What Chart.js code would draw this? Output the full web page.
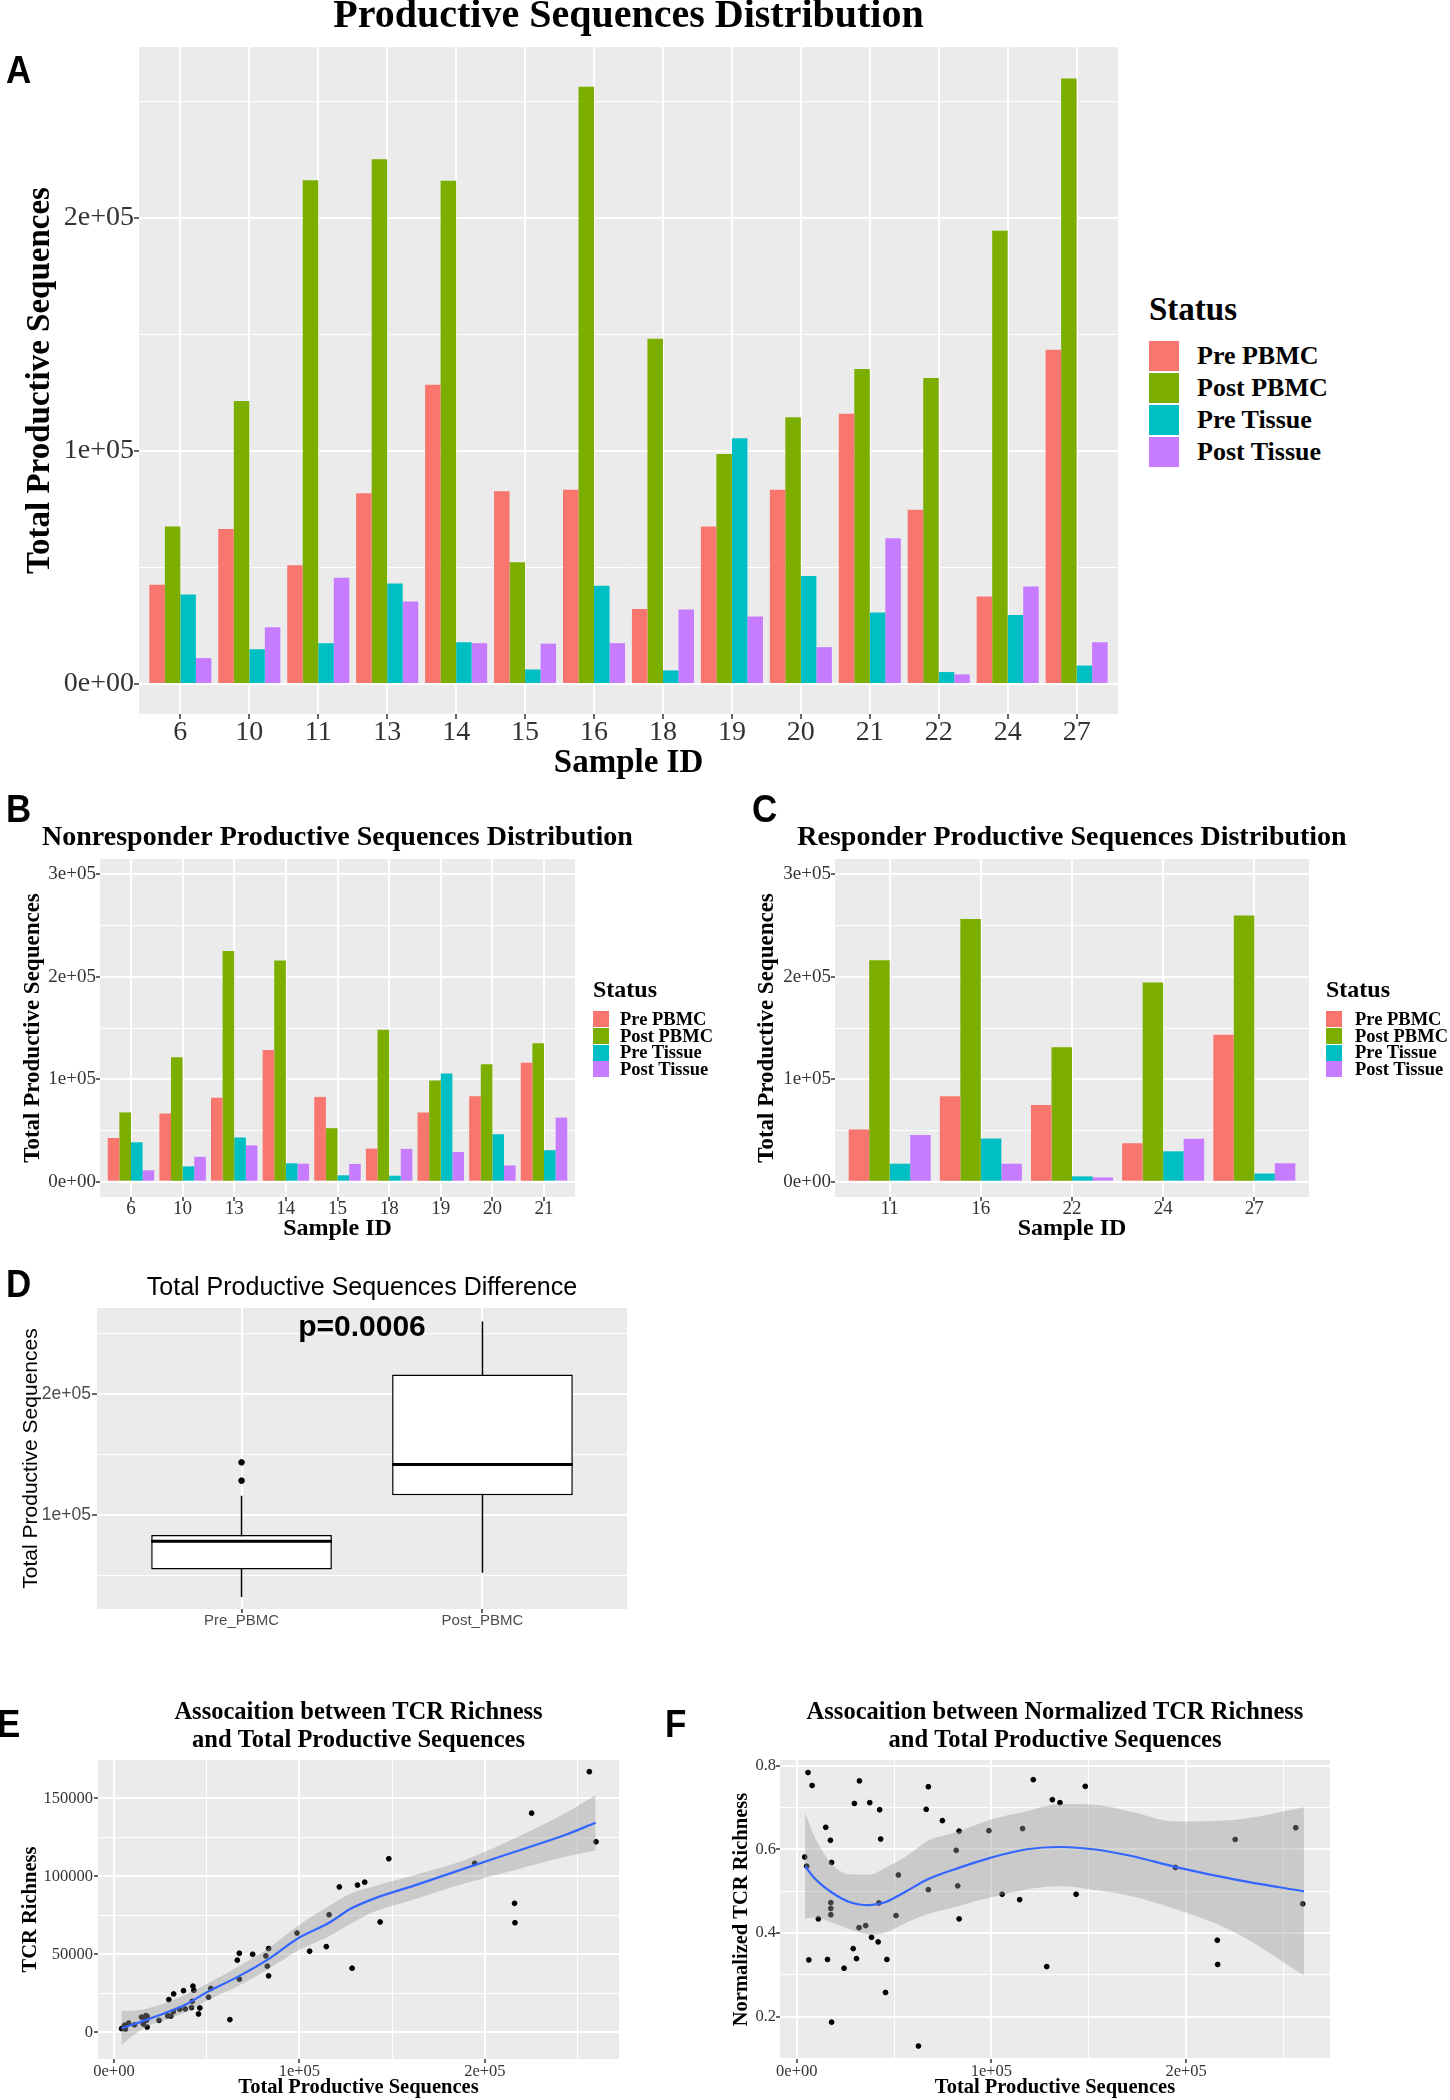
<!DOCTYPE html>
<html lang="en">
<head>
<meta charset="UTF-8">
<meta name="viewport" content="width=device-width, initial-scale=1.0">
<title>Productive Sequences Distribution</title>
<script src="https://cdn.jsdelivr.net/npm/chart.js"></script>
<style>
    body {
        margin: 0;
        background: #ffffff;
    }

    #page {
        position: relative;
        width: 1450px;
        height: 2100px;
        overflow: hidden;
        background: #ffffff;
    }

    canvas {
        position: absolute;
    }

    .letter {
        position: absolute;
        font-family: 'Liberation Sans', Arial, sans-serif;
        font-weight: bold;
        font-size: 38px;
        line-height: 38px;
        transform: scaleX(0.92);
        transform-origin: left top;
        color: #000;
    }

    .legend-text {
        position: absolute;
        font-family: 'Liberation Serif', 'Times New Roman', serif;
        font-weight: bold;
        white-space: nowrap;
        color: #000;
    }

    .legend-key {
        position: absolute;
    }
</style>
</head>
<body>
<div id="page">
    <canvas id="chartA" width="1125" height="785" style="left:0px; top:0px;"></canvas>
    <canvas id="chartB" width="650" height="445" style="left:0px; top:800px;"></canvas>
    <canvas id="chartC" width="640" height="445" style="left:730px; top:800px;"></canvas>
    <canvas id="chartD" width="640" height="380" style="left:0px; top:1255px;"></canvas>
    <canvas id="chartE" width="640" height="420" style="left:0px; top:1680px;"></canvas>
    <canvas id="chartF" width="700" height="420" style="left:650px; top:1680px;"></canvas>

    <div class="letter" style="left:6px; top:51px;">A</div>
    <div class="letter" style="left:6px; top:790px;">B</div>
    <div class="letter" style="left:752px; top:790px;">C</div>
    <div class="letter" style="left:6px; top:1265px;">D</div>
    <div class="letter" style="left:-3px; top:1705px;">E</div>
    <div class="letter" style="left:665px; top:1705px;">F</div>
</div>

<script>
    // Samples and groups
    const sampleIds = ['6', '10', '11', '13', '14', '15', '16', '18', '19', '20', '21', '22', '24', '27'];
    const nonresponderIds = ['6', '10', '13', '14', '15', '18', '19', '20', '21'];
    const responderIds = ['11', '16', '22', '24', '27'];
    const statusNames = ['Pre PBMC', 'Post PBMC', 'Pre Tissue', 'Post Tissue'];
    const statusColors = ['#F8766D', '#7CAE00', '#00BFC4', '#C77CFF'];

    // Total productive sequences per sample (same order as sampleIds)
    const prePBMC    = [42600, 66500, 51000, 81900, 128400, 82700, 83400, 32200, 67600, 83400, 116000, 74800, 37500, 143500];
    const postPBMC   = [67600, 121500, 216200, 225200, 216000, 52200, 256300, 148200, 98700, 114500, 135200, 131300, 194500, 259900];
    const preTissue  = [38400, 14900, 17500, 43100, 17900, 6200, 42200, 5800, 105500, 46300, 30700, 5100, 29600, 7900];
    const postTissue = [11100, 24300, 45600, 35400, 17500, 17300, 17500, 32000, 29000, 15800, 62500, 4100, 41800, 17900];

    // Normalized TCR richness per sample (same order as sampleIds)
    const normPrePBMC    = [0.695, 0.696, 0.442, 0.598, 0.320, 0.513, 0.644, 0.764, 0.750, 0.434, 0.650, 0.669, 0.712, 0.493];
    const normPostPBMC   = [0.504, 0.767, 0.325, 0.624, 0.383, 0.539, 0.652, 0.751, 0.645, 0.480, 0.712, 0.719, 0.557, 0.470];
    const normPreTissue  = [0.390, 0.653, 0.473, 0.625, 0.187, 0.336, 0.472, 0.784, 0.493, 0.337, 0.339, 0.560, 0.710, 0.753];
    const normPostTissue = [0.434, 0.316, 0.258, 0.418, 0.459, 0.622, 0.444, 0.413, 0.363, 0.337, 0.130, 0.582, 0.379, 0.569];

    // Smoothed fit (loess)
    const eCurveTotal   = [4000, 9400, 18300, 27300, 38100, 50700, 66900, 83100, 99300, 115500, 128100, 140600, 162200, 189200, 216200, 243200, 259700];
    const eFitRichness  = [2600, 4700, 8300, 12200, 17500, 26100, 35700, 46800, 60300, 69900, 79500, 85900, 94200, 105100, 115800, 126500, 134400];
    const eBandHigh     = [13900, 13900, 15400, 18600, 23900, 31400, 42100, 53800, 68400, 80600, 89100, 93800, 100900, 110500, 124400, 140400, 152100];
    const eBandLow      = [-8500, -2800, 4100, 7900, 12600, 20700, 29700, 40400, 52400, 61300, 69900, 77400, 85300, 95500, 104100, 112600, 116500];

    // Smoothed fit (loess)
    const fCurveTotal = [4300, 9400, 18400, 27400, 37300, 45400, 56200, 67000, 83200, 99400, 117400, 135400, 153400, 171400, 194800, 225400, 260500];
    const fFitNorm    = [0.560, 0.530, 0.496, 0.474, 0.467, 0.474, 0.500, 0.528, 0.556, 0.580, 0.600, 0.606, 0.600, 0.585, 0.558, 0.528, 0.500];
    const fBandHigh   = [0.687, 0.628, 0.564, 0.540, 0.540, 0.556, 0.584, 0.620, 0.643, 0.671, 0.691, 0.709, 0.707, 0.691, 0.667, 0.671, 0.701];
    const fBandLow    = [0.435, 0.437, 0.425, 0.409, 0.397, 0.401, 0.425, 0.445, 0.465, 0.485, 0.504, 0.512, 0.503, 0.489, 0.457, 0.401, 0.299];

    const boxGroups = ['Pre_PBMC', 'Post_PBMC'];
    const pValueText = 'p=0.0006';

    const statusSeries = [prePBMC, postPBMC, preTissue, postTissue];
    const statusNorm = [normPrePBMC, normPostPBMC, normPreTissue, normPostTissue];

    const serif = "'Liberation Serif', 'Times New Roman', serif";
    const sans = "'Liberation Sans', Arial, sans-serif";

    Chart.defaults.color = '#000';
    Chart.defaults.font.family = serif;

    // grey panel behind the plot, ggplot style
    const panelBg = {
        id: 'panelBg',
        beforeDraw(chart) {
            const a = chart.chartArea;
            const ctx = chart.ctx;
            ctx.save();
            ctx.fillStyle = '#EBEBEB';
            ctx.fillRect(a.left, a.top, a.right - a.left, a.bottom - a.top);
            ctx.restore();
        }
    };

    // plot title centred over the panel (the built-in title squeezes long text to the panel width)
    const ggTitle = {
        id: 'ggTitle',
        afterDraw(chart, args, o) {
            const a = chart.chartArea;
            const ctx = chart.ctx;
            ctx.save();
            ctx.font = o.font;
            ctx.fillStyle = '#000';
            ctx.textAlign = 'center';
            ctx.textBaseline = 'middle';
            o.lines.forEach((t, i) => ctx.fillText(t, (a.left + a.right) / 2, o.y + i * (o.gap || 0)));
            ctx.restore();
        }
    };

    function font(family, size, weight, lineHeight) {
        return { family: family, size: size, weight: weight || 'normal', lineHeight: lineHeight || 1 };
    }

    function sci(v) {
        if (v === 0) return '0e+00';
        const e = Math.floor(Math.log10(Math.abs(v)) + 1e-9);
        const m = Math.round(v / Math.pow(10, e));
        return m + 'e' + (e < 0 ? '-' : '+') + String(Math.abs(e)).padStart(2, '0');
    }

    function ggTicks(majors, minors) {
        return function (scale) {
            const t = majors.map(v => ({ value: v }))
                .concat(minors.map(v => ({ value: v, minor: true })));
            t.sort((a, b) => a.value - b.value);
            scale.ticks = t;
        };
    }

    function ggGrid(tickLen) {
        return {
            color: '#FFFFFF',
            lineWidth: c => (c.tick && c.tick.minor) ? 1 : 2,
            tickColor: c => (c.tick && c.tick.minor) ? 'rgba(0,0,0,0)' : '#333333',
            tickWidth: 1.5,
            tickLength: tickLen,
            drawTicks: true,
            offset: false
        };
    }

    function ggAxis(o) {
        return {
            type: 'linear',
            min: o.min,
            max: o.max,
            bounds: 'data',
            beginAtZero: false,
            offset: false,
            afterBuildTicks: ggTicks(o.majors, o.minors || []),
            afterFit: o.width ? (s => { s.width = o.width; }) : (s => { s.height = o.height; }),
            grid: ggGrid(o.tickLen),
            border: { display: false },
            ticks: {
                autoSkip: false,
                maxRotation: 0,
                minRotation: 0,
                padding: o.tickPad,
                color: o.tickColor || '#333333',
                font: o.tickFont,
                callback: (v, i, t) => t[i].minor ? '' : o.fmt(v)
            },
            title: {
                display: !!o.title,
                text: o.title,
                color: '#000',
                font: o.titleFont,
                padding: o.titlePad
            }
        };
    }

    function addLegend(spec) {
        const page = document.getElementById('page');
        const head = document.createElement('div');
        head.className = 'legend-text';
        head.textContent = 'Status';
        head.style.left = spec.left + 'px';
        head.style.top = (spec.titleY - spec.titleSize / 2) + 'px';
        head.style.fontSize = spec.titleSize + 'px';
        head.style.lineHeight = spec.titleSize + 'px';
        page.appendChild(head);

        statusNames.forEach((name, i) => {
            const top = spec.boxTop + i * spec.pitch;
            const key = document.createElement('div');
            key.className = 'legend-key';
            key.style.left = spec.left + 'px';
            key.style.top = top + 'px';
            key.style.width = spec.box + 'px';
            key.style.height = spec.box + 'px';
            key.style.background = statusColors[i];
            page.appendChild(key);

            const label = document.createElement('div');
            label.className = 'legend-text';
            label.textContent = name;
            label.style.left = spec.textLeft + 'px';
            label.style.top = (top + spec.box / 2 - spec.textSize / 2) + 'px';
            label.style.fontSize = spec.textSize + 'px';
            label.style.lineHeight = spec.textSize + 'px';
            page.appendChild(label);
        });
    }

    // ---------- A, B, C: grouped bars ----------
    function barPanel(canvasId, ids, L) {
        const idx = ids.map(id => sampleIds.indexOf(id));
        const datasets = statusSeries.map((series, s) => ({
            label: statusNames[s],
            data: idx.map((k, i) => ({ x: i + 1, y: series[k] })),
            backgroundColor: statusColors[s],
            borderWidth: 0,
            categoryPercentage: 0.9,
            barPercentage: 1.0
        }));

        const xAxis = ggAxis({
            min: 0.4, max: ids.length + 0.6,
            majors: ids.map((_, i) => i + 1),
            height: L.xHeight, tickLen: L.tickLen, tickPad: 0,
            tickFont: font(serif, L.tickSize, 'normal', L.xTickLh),
            fmt: v => ids[Math.round(v) - 1],
            title: 'Sample ID',
            titleFont: font(serif, L.xTitleSize, 'bold', 1),
            titlePad: { top: 0, bottom: L.xTitlePad }
        });
        const yAxis = ggAxis({
            min: L.yMin, max: L.yMax,
            majors: L.majors, minors: L.minors,
            width: L.yWidth, tickLen: L.tickLen, tickPad: 0,
            tickFont: font(serif, L.tickSize, 'normal', 1),
            fmt: sci,
            title: 'Total Productive Sequences',
            titleFont: font(serif, L.yTitleSize, 'bold', 1),
            titlePad: { top: L.yTitlePad, bottom: 0 }
        });

        new Chart(document.getElementById(canvasId), {
            type: 'bar',
            data: { datasets: datasets },
            options: {
                responsive: false,
                animation: false,
                layout: { padding: L.pad },
                plugins: {
                    legend: { display: false },
                    tooltip: { enabled: false },
                    ggTitle: { lines: [L.title], font: 'bold ' + L.titleSize + 'px ' + serif, y: L.titleY }
                },
                scales: { x: xAxis, y: yAxis }
            },
            plugins: [panelBg, ggTitle]
        });
    }

    barPanel('chartA', sampleIds, {
        title: 'Productive Sequences Distribution',
        titleSize: 40, titleY: 17,
        pad: { left: 0, top: 47, right: 7, bottom: 0 },
        yMin: -12900, yMax: 273400,
        majors: [0, 100000, 200000], minors: [50000, 150000, 250000],
        yWidth: 139, xHeight: 71, tickLen: 5,
        tickSize: 28, xTickLh: 1,
        yTitleSize: 33, yTitlePad: 23.5,
        xTitleSize: 33, xTitlePad: 5.5
    });

    barPanel('chartB', nonresponderIds, {
        title: 'Nonresponder Productive Sequences Distribution',
        titleSize: 28, titleY: 38,
        pad: { left: 0, top: 59, right: 75, bottom: 0 },
        yMin: -15000, yMax: 315000,
        majors: [0, 100000, 200000, 300000], minors: [50000, 150000, 250000],
        yWidth: 100, xHeight: 48, tickLen: 4,
        tickSize: 19, xTickLh: 0.8,
        yTitleSize: 23, yTitlePad: 21.5,
        xTitleSize: 24, xTitlePad: 4
    });

    barPanel('chartC', responderIds, {
        title: 'Responder Productive Sequences Distribution',
        titleSize: 28, titleY: 38,
        pad: { left: 0, top: 59, right: 61, bottom: 0 },
        yMin: -15000, yMax: 315000,
        majors: [0, 100000, 200000, 300000], minors: [50000, 150000, 250000],
        yWidth: 105, xHeight: 48, tickLen: 4,
        tickSize: 19, xTickLh: 0.8,
        yTitleSize: 23, yTitlePad: 25.5,
        xTitleSize: 24, xTitlePad: 4
    });

    addLegend({ left: 1149, titleY: 309.5, titleSize: 33, boxTop: 341, pitch: 32, box: 30, textLeft: 1197, textSize: 26 });
    addLegend({ left: 593, titleY: 988.5, titleSize: 24, boxTop: 1011, pitch: 16.8, box: 16, textLeft: 620, textSize: 18.5 });
    addLegend({ left: 1326, titleY: 988.5, titleSize: 24, boxTop: 1011, pitch: 16.8, box: 16, textLeft: 1355, textSize: 18.5 });

    // ---------- D: box plot of Pre vs Post PBMC ----------
    function quantile7(sorted, p) {
        const h = (sorted.length - 1) * p;
        const lo = Math.floor(h);
        const hi = Math.min(lo + 1, sorted.length - 1);
        return sorted[lo] + (h - lo) * (sorted[hi] - sorted[lo]);
    }

    function boxStats(values) {
        const s = values.slice().sort((a, b) => a - b);
        const q1 = quantile7(s, 0.25);
        const med = quantile7(s, 0.5);
        const q3 = quantile7(s, 0.75);
        const iqr = q3 - q1;
        const inside = s.filter(v => v >= q1 - 1.5 * iqr && v <= q3 + 1.5 * iqr);
        return {
            q1: q1, med: med, q3: q3,
            lo: inside[0], hi: inside[inside.length - 1],
            out: s.filter(v => v < q1 - 1.5 * iqr || v > q3 + 1.5 * iqr)
        };
    }

    const boxData = [boxStats(prePBMC), boxStats(postPBMC)];
    const halfBox = 0.375;

    const whiskerPts = [];
    const medianPts = [];
    const outlierPts = [];
    boxData.forEach((b, i) => {
        const x = i + 1;
        if (i > 0) {
            whiskerPts.push({ x: x - 0.5, y: null });
            medianPts.push({ x: x - 0.5, y: null });
        }
        whiskerPts.push({ x: x, y: b.lo }, { x: x, y: b.hi });
        medianPts.push({ x: x - halfBox, y: b.med }, { x: x + halfBox, y: b.med });
        b.out.forEach(v => outlierPts.push({ x: x, y: v }));
    });

    const pLabel = {
        id: 'pLabel',
        afterDatasetsDraw(chart, args, opts) {
            const ctx = chart.ctx;
            ctx.save();
            ctx.font = opts.font;
            ctx.fillStyle = '#000';
            ctx.textAlign = 'center';
            ctx.textBaseline = 'middle';
            ctx.fillText(opts.text, chart.scales.x.getPixelForValue(opts.x), chart.scales.y.getPixelForValue(opts.y));
            ctx.restore();
        }
    };

    new Chart(document.getElementById('chartD'), {
        type: 'bar',
        data: {
            datasets: [
                {
                    type: 'bar',
                    data: boxData.map((b, i) => ({ x: i + 1, y: [b.q1, b.q3] })),
                    backgroundColor: '#FFFFFF',
                    borderColor: '#000000',
                    borderWidth: 1.5,
                    borderSkipped: false,
                    categoryPercentage: 0.75,
                    barPercentage: 1.0,
                    order: 2
                },
                {
                    type: 'line',
                    data: whiskerPts,
                    borderColor: '#000000',
                    borderWidth: 1.5,
                    pointRadius: 0,
                    spanGaps: false,
                    order: 3
                },
                {
                    type: 'line',
                    data: medianPts,
                    borderColor: '#000000',
                    borderWidth: 3,
                    pointRadius: 0,
                    spanGaps: false,
                    order: 1
                },
                {
                    type: 'scatter',
                    data: outlierPts,
                    backgroundColor: '#000000',
                    borderColor: '#000000',
                    pointRadius: 2.8,
                    order: 0
                }
            ]
        },
        options: {
            responsive: false,
            animation: false,
            layout: { padding: { left: 0, top: 53, right: 13, bottom: 0 } },
            plugins: {
                legend: { display: false },
                tooltip: { enabled: false },
                ggTitle: { lines: ['Total Productive Sequences Difference'], font: '25px ' + sans, y: 33 },
                pLabel: { text: pValueText, x: 1.5, y: 254500, font: 'bold 30px ' + sans }
            },
            scales: {
                x: ggAxis({
                    min: 0.4, max: 2.6, majors: [1, 2],
                    height: 26, tickLen: 4, tickPad: 0,
                    tickFont: font(sans, 15, 'normal', 1), tickColor: '#4D4D4D',
                    fmt: v => boxGroups[Math.round(v) - 1]
                }),
                y: ggAxis({
                    min: 22300, max: 271100,
                    majors: [100000, 200000], minors: [50000, 150000, 250000],
                    width: 97, tickLen: 5, tickPad: 1,
                    tickFont: font(sans, 17.5, 'normal', 1), tickColor: '#4D4D4D',
                    fmt: sci,
                    title: 'Total Productive Sequences',
                    titleFont: font(sans, 21, 'normal', 1),
                    titlePad: { top: 20.5, bottom: 0 }
                })
            }
        },
        plugins: [panelBg, ggTitle, pLabel]
    });

    // ---------- E, F: scatter with loess fit ----------
    const richPoints = [];
    const normPoints = [];
    statusSeries.forEach((series, s) => {
        series.forEach((total, i) => {
            richPoints.push({ x: total, y: total * statusNorm[s][i] });
            normPoints.push({ x: total, y: statusNorm[s][i] });
        });
    });

    function pairs(xs, ys) {
        return xs.map((x, i) => ({ x: x, y: ys[i] }));
    }

    function scatterPanel(canvasId, L) {
        new Chart(document.getElementById(canvasId), {
            type: 'scatter',
            data: {
                datasets: [
                    {
                        type: 'scatter',
                        data: L.points,
                        backgroundColor: '#000000',
                        borderColor: '#000000',
                        pointRadius: 2.4,
                        order: 2
                    },
                    {
                        type: 'line',
                        data: pairs(L.curveX, L.bandHigh),
                        borderColor: 'rgba(0,0,0,0)',
                        backgroundColor: 'rgba(153,153,153,0.4)',
                        fill: '+1',
                        pointRadius: 0,
                        cubicInterpolationMode: 'monotone',
                        order: 1
                    },
                    {
                        type: 'line',
                        data: pairs(L.curveX, L.bandLow),
                        borderColor: 'rgba(0,0,0,0)',
                        fill: false,
                        pointRadius: 0,
                        cubicInterpolationMode: 'monotone',
                        order: 1
                    },
                    {
                        type: 'line',
                        data: pairs(L.curveX, L.fit),
                        borderColor: '#3366FF',
                        borderWidth: 2.2,
                        fill: false,
                        pointRadius: 0,
                        cubicInterpolationMode: 'monotone',
                        order: 0
                    }
                ]
            },
            options: {
                responsive: false,
                animation: false,
                layout: { padding: L.pad },
                plugins: {
                    legend: { display: false },
                    tooltip: { enabled: false },
                    ggTitle: { lines: L.title, font: 'bold 24.5px ' + serif, y: 33, gap: 28 }
                },
                scales: {
                    x: ggAxis({
                        min: L.xMin, max: L.xMax,
                        majors: [0, 100000, 200000], minors: [50000, 150000, 250000],
                        height: 41, tickLen: 4, tickPad: 0,
                        tickFont: font(serif, 16.5, 'normal', 1),
                        fmt: sci,
                        title: 'Total Productive Sequences',
                        titleFont: font(serif, 20.5, 'bold', 1),
                        titlePad: { top: 0, bottom: 1.75 }
                    }),
                    y: ggAxis({
                        min: L.yMin, max: L.yMax,
                        majors: L.yMajors, minors: L.yMinors,
                        width: L.yWidth, tickLen: 4, tickPad: L.yTickPad,
                        tickFont: font(serif, 16.5, 'normal', 1),
                        fmt: L.yFmt,
                        title: L.yTitle,
                        titleFont: font(serif, 20.5, 'bold', 1),
                        titlePad: { top: L.yTitlePad, bottom: 0 }
                    })
                }
            },
            plugins: [panelBg, ggTitle]
        });
    }

    scatterPanel('chartE', {
        title: ['Assocaition between TCR Richness', 'and Total Productive Sequences'],
        pad: { left: 0, top: 80, right: 21, bottom: 0 },
        points: richPoints,
        curveX: eCurveTotal, fit: eFitRichness, bandHigh: eBandHigh, bandLow: eBandLow,
        xMin: -8600, xMax: 272300,
        yMin: -17100, yMax: 174600,
        yMajors: [0, 50000, 100000, 150000], yMinors: [25000, 75000, 125000],
        yFmt: v => String(Math.round(v)),
        yWidth: 98, yTickPad: 1,
        yTitle: 'TCR Richness', yTitlePad: 20.75
    });

    scatterPanel('chartF', {
        title: ['Assocaition between Normalized TCR Richness', 'and Total Productive Sequences'],
        pad: { left: 0, top: 80, right: 20, bottom: 0 },
        points: normPoints,
        curveX: fCurveTotal, fit: fFitNorm, bandHigh: fBandHigh, bandLow: fBandLow,
        xMin: -8600, xMax: 273900,
        yMin: 0.099, yMax: 0.814,
        yMajors: [0.2, 0.4, 0.6, 0.8], yMinors: [0.1, 0.3, 0.5, 0.7],
        yFmt: v => v.toFixed(1),
        yWidth: 130, yTickPad: 0,
        yTitle: 'Normalized TCR Richness', yTitlePad: 81.75
    });
</script>
</body>
</html>
